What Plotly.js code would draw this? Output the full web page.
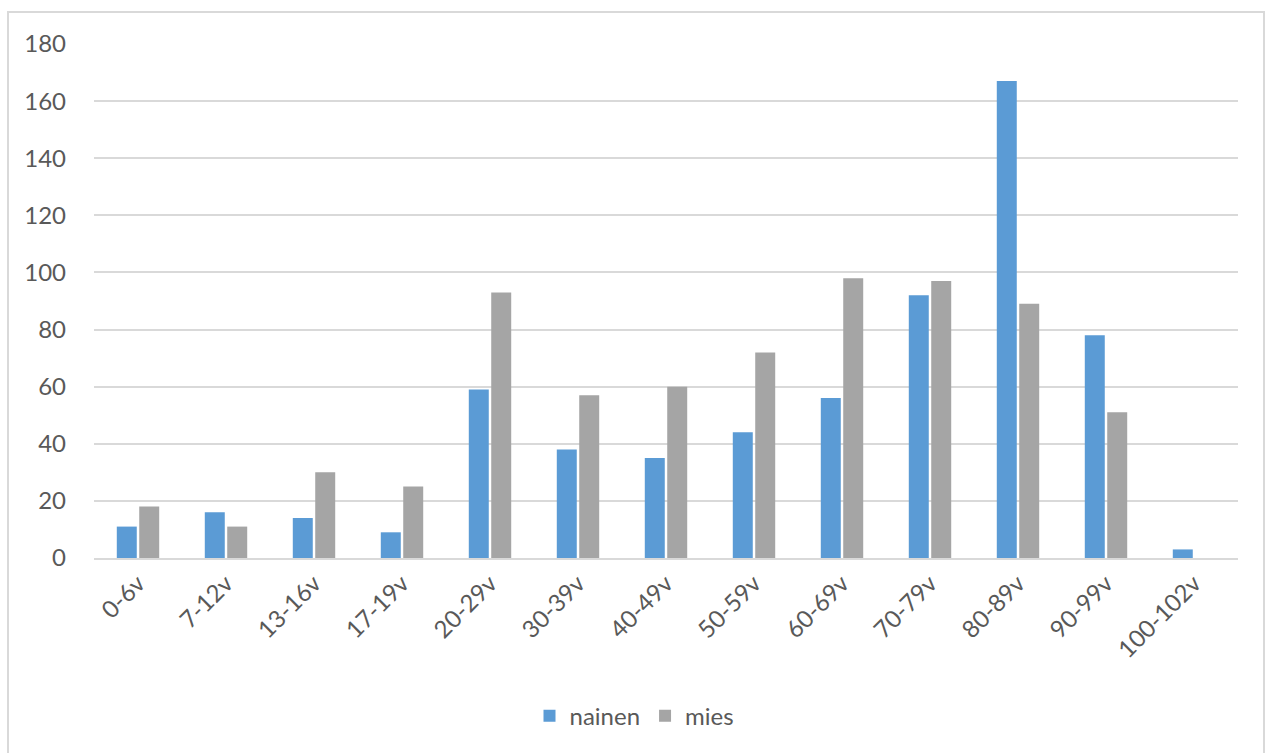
<!DOCTYPE html>
<html>
<head>
<meta charset="utf-8">
<script src="https://cdn.plot.ly/plotly-3.0.1.min.js"></script>
<style>
  html, body { margin: 0; padding: 0; background: #fff; }
  #frame { position: absolute; left: 7px; top: 11px; width: 1258px; height: 760px; border: 2px solid #D9D9D9; box-sizing: border-box; }
  #chart { position: absolute; left: 0; top: 0; width: 1269px; height: 753px; }
</style>
</head>
<body>
<div id="frame"></div>
<div id="chart"></div>
<script>
const categories = ["0-6v", "7-12v", "13-16v", "17-19v", "20-29v", "30-39v", "40-49v", "50-59v", "60-69v", "70-79v", "80-89v", "90-99v", "100-102v"];
const nainen = [11, 16, 14, 9, 59, 38, 35, 44, 56, 92, 167, 78, 3];
const mies = [18, 11, 30, 25, 93, 57, 60, 72, 98, 97, 89, 51, 0];
const yTicks = [0, 20, 40, 60, 80, 100, 120, 140, 160, 180];

const font = "Lato, 'Open Sans', sans-serif";
const data = [
  { type: "bar", name: "nainen", x: categories, y: nainen, marker: { color: "#5B9BD5" }, hoverinfo: "x+y+name" },
  { type: "bar", name: "mies", x: categories, y: mies, marker: { color: "#A5A5A5" }, hoverinfo: "x+y+name" }
];
const layout = {
  width: 1269, height: 753,
  paper_bgcolor: "rgba(0,0,0,0)", plot_bgcolor: "rgba(0,0,0,0)",
  margin: { l: 94, r: 31, t: 44, b: 195 },
  barmode: "group", bargap: 0.49, bargroupgap: 0.11,
  font: { family: font, size: 24, color: "#595959" },
  xaxis: {
    type: "category", tickangle: -45, showgrid: false, zeroline: false,
    showline: true, linecolor: "#D9D9D9", linewidth: 2,
    ticks: "", ticklen: 0, tickfont: { size: 24, color: "#595959" }, automargin: false
  },
  yaxis: {
    range: [0, 180], tickvals: yTicks, showgrid: true, gridcolor: "#D9D9D9", gridwidth: 2,
    zeroline: false, showline: false, ticks: "", ticklabelstandoff: 27,
    tickfont: { size: 24, color: "#595959" }, automargin: false
  },
  showlegend: true,
  legend: {
    orientation: "h", x: 0.5, xanchor: "center", xref: "container",
    y: 0.049, yanchor: "middle", yref: "container",
    font: { size: 24, color: "#595959" }, itemwidth: 30, traceorder: "normal"
  }
};
Plotly.newPlot("chart", data, layout, { displayModeBar: false, staticPlot: true });
</script>
</body>
</html>
